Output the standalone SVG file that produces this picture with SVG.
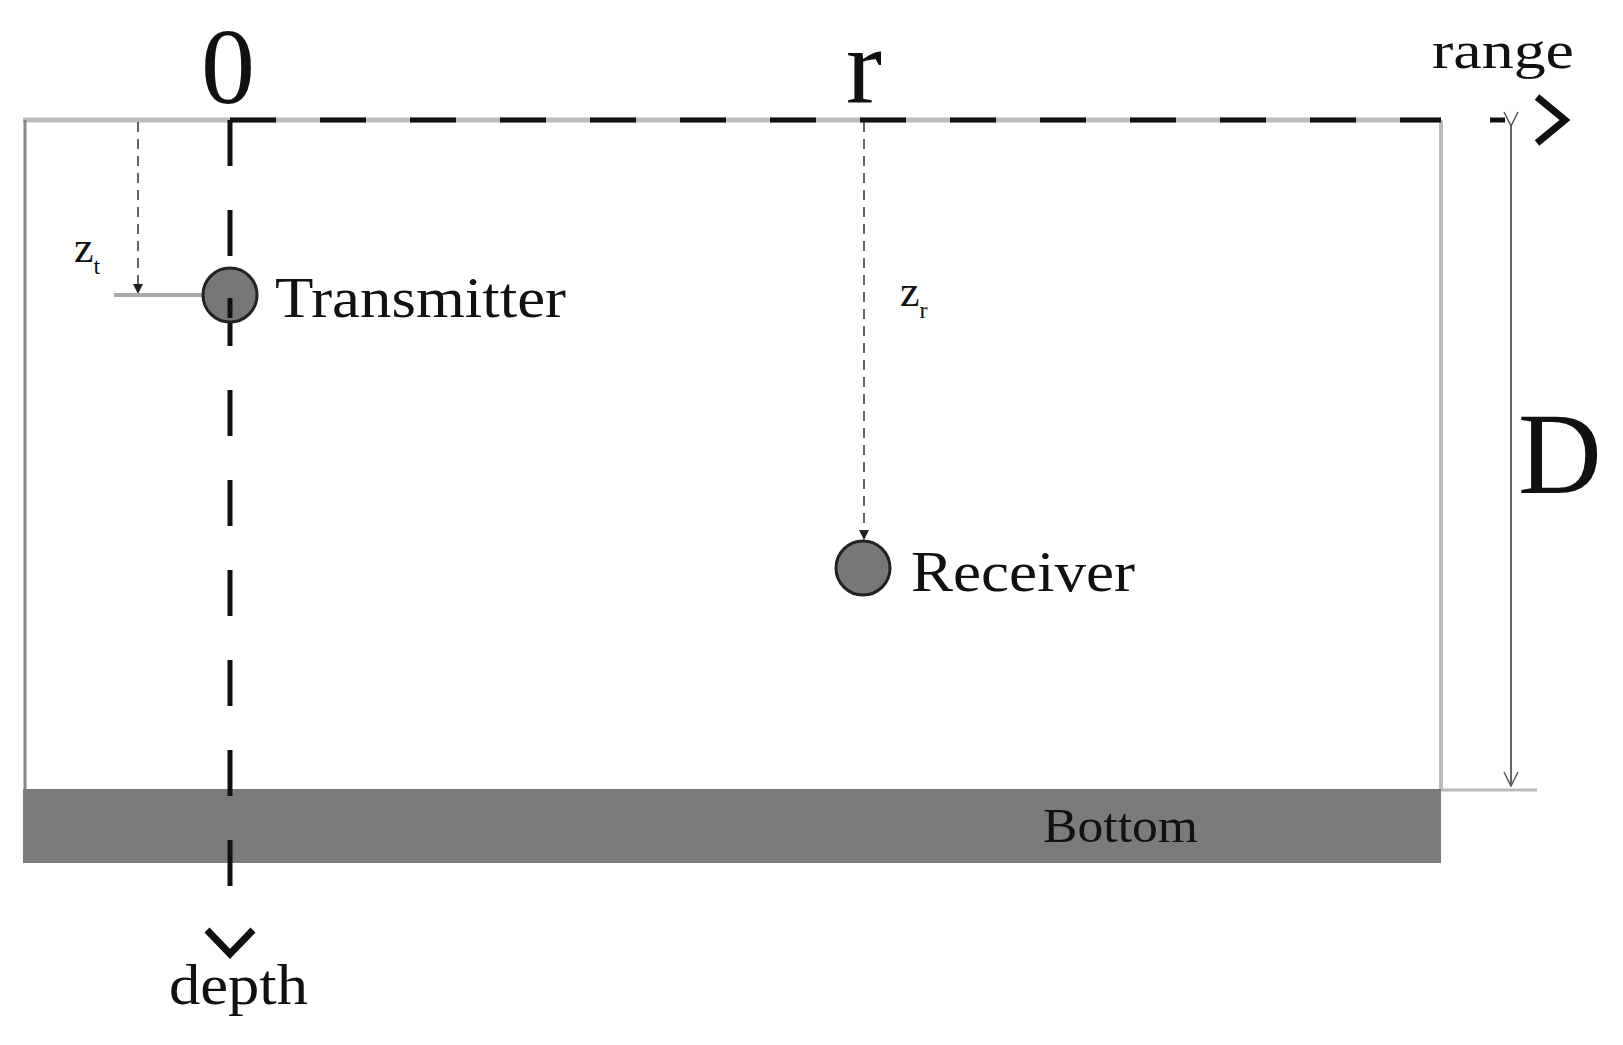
<svg xmlns="http://www.w3.org/2000/svg" width="1623" height="1045" viewBox="0 0 1623 1045">
<style>
text{font-family:"Liberation Serif","Times New Roman",serif;fill:#111}
.g{stroke:#bbb;fill:none}
.ax{stroke:#111;stroke-width:5;stroke-dasharray:46 44;fill:none}
.thin{stroke:#333;stroke-width:1.5;stroke-dasharray:10 7;fill:none}
.node{fill:#777;stroke:#222;stroke-width:3}
</style>
<defs>
<marker id="tri" markerWidth="10" markerHeight="10" refX="8" refY="5" orient="auto" markerUnits="userSpaceOnUse"><path d="M0,0 L10,5 L0,10 Z" fill="#222"/></marker>
<marker id="open" markerWidth="16" markerHeight="16" refX="15" refY="8" orient="auto" markerUnits="userSpaceOnUse"><path d="M1,1 L15,8 L1,15" fill="none" stroke="#555" stroke-width="1.5"/></marker>
</defs>
<rect id="bottom" x="23" y="789" width="1418" height="74" fill="#7b7b7d"/>
<g id="frame">
<path class="g" d="M23,120 H1441" stroke-width="5"/>
<path d="M25,120 V789" stroke="#888" stroke-width="3" fill="none"/>
<path class="g" d="M1441,120 V789" stroke-width="4"/>
<path class="g" d="M1441,790 H1537" stroke-width="3"/>
</g>
<g id="connectors">
<path class="ax" d="M230,120 H1441"/>
<path d="M1490,120 H1505" stroke="#111" stroke-width="5"/>
<path d="M1537,97 L1565,120 L1537,143" stroke="#111" stroke-width="7" fill="none"/>
<path class="ax" d="M230,120 V887"/>
<path d="M207,930 L230,954 L253,930" stroke="#111" stroke-width="7" fill="none"/>
<path class="thin" d="M138,122 V292" marker-end="url(#tri)"/>
<path d="M114,295 H205" stroke="#aaa" stroke-width="4"/>
<path class="thin" d="M864,122 V538" stroke="#999" marker-end="url(#tri)"/>
<path d="M1511,126 V786" stroke="#666" stroke-width="2" marker-start="url(#open)" marker-end="url(#open)"/>
</g>
<g id="transmitter">
<circle class="node" cx="230" cy="295" r="27"/>
<path d="M230,298 V318" stroke="#111" stroke-width="5"/>
<text x="275" y="317" font-size="56" textLength="291" lengthAdjust="spacingAndGlyphs">Transmitter</text>
</g>
<g id="receiver">
<circle class="node" cx="863" cy="568" r="27"/>
<text x="911" y="591" font-size="56" textLength="224" lengthAdjust="spacingAndGlyphs">Receiver</text>
</g>
<g id="labels">
<text x="228" y="103" font-size="108" text-anchor="middle">0</text>
<text x="864" y="103" font-size="108" text-anchor="middle">r</text>
<text x="1432" y="68" font-size="52" textLength="142" lengthAdjust="spacingAndGlyphs">range</text>
<text x="1560" y="493" font-size="116" text-anchor="middle">D</text>
<text x="74" y="262" font-size="44">z<tspan font-size="24" dy="12">t</tspan></text>
<text x="900" y="306" font-size="44">z<tspan font-size="24" dy="12">r</tspan></text>
<text x="1043" y="842" font-size="48" textLength="155" lengthAdjust="spacingAndGlyphs">Bottom</text>
<text x="169" y="1004" font-size="56" textLength="139" lengthAdjust="spacingAndGlyphs">depth</text>
</g>
</svg>
